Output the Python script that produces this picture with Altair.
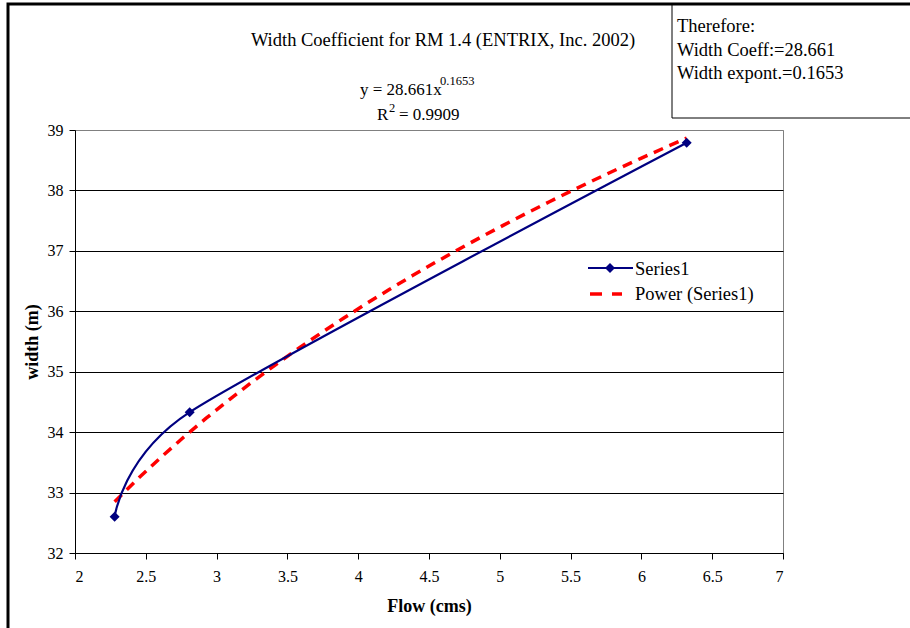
import altair as alt
import pandas as pd

# ---- data ----
flow = [2.28, 2.81, 6.32]
width_m = [32.6, 34.33, 38.79]
x_ticks = [2, 2.5, 3, 3.5, 4, 4.5, 5, 5.5, 6, 6.5, 7]
y_ticks = [32, 33, 34, 35, 36, 37, 38, 39]
legend_labels = ["Series1", "Power (Series1)"]
title_text = "Width Coefficient for RM 1.4 (ENTRIX, Inc. 2002)"
eq_main = "y = 28.661x"
eq_sup = "0.1653"
r2_parts = ["R", "2", "= 0.9909"]
box_lines = ["Therefore:", "Width Coeff:=28.661", "Width expont.=0.1653"]

FONT = "Liberation Serif"
NAVY = "#000080"
RED = "#FF0000"

df = pd.DataFrame({"flow": flow, "width": width_m})
one = pd.DataFrame({"a": [0]})

W, H = 708, 423

xs = alt.Scale(domain=[2, 7], nice=False, zero=False)
ys = alt.Scale(domain=[32, 39], nice=False, zero=False)

x_enc = alt.X("flow:Q", scale=xs, title="Flow (cms)",
              axis=alt.Axis(values=x_ticks, format="~g", grid=False, domainColor="black",
                            tickColor="black", tickSize=6, labelPadding=9,
                            titleY=53, titleBaseline="middle",
                            labelFontSize=16, titleFontSize=18, titleFontWeight="bold",
                            labelFont=FONT, titleFont=FONT, labelColor="black", titleColor="black"))
y_enc = alt.Y("width:Q", scale=ys, title="width (m)",
              axis=alt.Axis(values=y_ticks, format="~g", grid=True,
                            gridColor={"condition": {"test": "datum.value >= 39", "value": "#808080"}, "value": "black"},
                            gridWidth=1, domainColor="black",
                            tickColor="black", tickSize=6, labelPadding=6,
                            titleX=-43, titleY=H / 2, titleBaseline="middle", titleAngle=-90,
                            labelFontSize=16, titleFontSize=18, titleFontWeight="bold",
                            labelFont=FONT, titleFont=FONT, labelColor="black", titleColor="black"))

base = alt.Chart(df)

trend = base.transform_regression(
    "flow", "width", method="pow", extent=[2.28, 6.32]
).mark_line(color=RED, strokeWidth=3.5, strokeDash=[10, 7], clip=True).encode(x=x_enc, y=y_enc)

series_line = base.mark_line(color=NAVY, strokeWidth=2.2, interpolate="cardinal", tension=0.3).encode(x=x_enc, y=y_enc)
series_pts = base.mark_point(shape="diamond", filled=True, color=NAVY, size=100, opacity=1).encode(x=x_enc, y=y_enc)

def txt(s, x, y, size=18.5, align="left", baseline="alphabetic", weight="normal"):
    return alt.Chart(one).mark_text(text=s, font=FONT, fontSize=size, align=align, baseline=baseline,
                                    fontWeight=weight, color="black").encode(x=alt.value(x), y=alt.value(y))

# outer frame (partially visible at top/left)
frame = alt.Chart(one).mark_rect(fill=None, stroke="black", strokeWidth=3).encode(
    x=alt.value(-67), x2=alt.value(1000), y=alt.value(-126), y2=alt.value(1000))

# info box at top right
box = alt.Chart(one).mark_rect(fill="white", stroke="black", strokeWidth=1).encode(
    x=alt.value(597), x2=alt.value(900), y=alt.value(-125), y2=alt.value(-12))

layers = [frame, trend, series_line, series_pts, box,
          txt(title_text, 368, -84, align="center"),
          txt(eq_main, 285, -35, size=17),
          txt(eq_sup, 365, -45, size=12.5),
          txt(r2_parts[0], 302, -10, size=17),
          txt(r2_parts[1], 314, -18, size=12.5),
          txt(r2_parts[2], 324, -10, size=17)]
for i, s in enumerate(box_lines):
    layers.append(txt(s, 602, -98 + i * 23.5))

# legend
leg_line = alt.Chart(one).mark_rule(color=NAVY, strokeWidth=2.2).encode(
    x=alt.value(513), x2=alt.value(558), y=alt.value(138))
leg_pt = alt.Chart(one).mark_point(shape="diamond", filled=True, color=NAVY, size=100, opacity=1).encode(
    x=alt.value(535), y=alt.value(138))
leg_dash = alt.Chart(one).mark_rule(color=RED, strokeWidth=3.5, strokeDash=[12, 10]).encode(
    x=alt.value(515), x2=alt.value(547), y=alt.value(164))
layers += [leg_line, leg_pt, leg_dash,
           txt(legend_labels[0], 560, 139, baseline="middle"),
           txt(legend_labels[1], 560, 164, baseline="middle")]

chart = alt.layer(*layers).properties(
    width=W, height=H,
    padding={"left": 75, "top": 130, "right": 127, "bottom": 75},
    autosize=alt.AutoSizeParams(type="none"),
    background="white",
).configure_view(stroke="#808080", strokeWidth=1)

chart.save("out.html", embed_options={"renderer": "svg", "actions": False})
